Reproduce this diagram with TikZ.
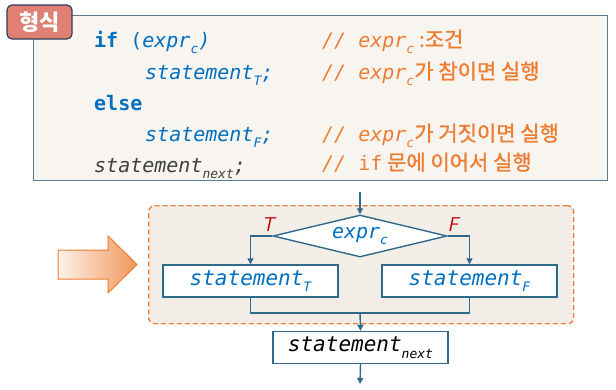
\documentclass[tikz,border=0pt]{standalone}
\usepackage{fontspec}
\setmainfont{DejaVu Sans}
\setmonofont{DejaVu Sans Mono}
\newfontfamily\kr{Noto Sans CJK KR}
\newfontfamily\krm{Noto Sans CJK KR}[FakeBold=1.2]
\usetikzlibrary{shapes.geometric,arrows.meta}
\definecolor{boxfill}{HTML}{F8F5F1}
\definecolor{boxline}{HTML}{5B7C8E}
\definecolor{tagfill}{HTML}{E07F74}
\definecolor{tagline}{HTML}{2F3E5C}
\definecolor{codeblue}{HTML}{0070C0}
\definecolor{cmtorange}{HTML}{ED7D31}
\definecolor{nextgray}{HTML}{404040}
\definecolor{flowline}{HTML}{2E6A8B}
\definecolor{dashline}{HTML}{F07F3C}
\definecolor{dashfill}{HTML}{F2EDE7}
\definecolor{tfred}{HTML}{C00000}
\newcommand\sbs[1]{\raisebox{-0.32em}{\fontsize{13}{13}\selectfont #1}}
\newcommand\krc{\krm\upshape\fontsize{21}{24}\selectfont}
\begin{document}
\begin{tikzpicture}[x=1pt,y=-1pt,
  code/.style={font=\ttfamily\fontsize{20}{24}\selectfont, inner sep=0pt, anchor=base west, text=codeblue},
  cmt/.style={font=\ttfamily\fontsize{20}{24}\selectfont, inner sep=0pt, anchor=base west, text=cmtorange},
  flowbox/.style={draw=flowline, line width=1.4pt, fill=white, minimum width=175pt, minimum height=32pt, inner sep=0pt, font=\ttfamily\itshape\fontsize{21}{24}\selectfont, text=codeblue},
  flow/.style={draw=flowline, line width=1.4pt},
  flowarr/.style={flow, -{Triangle[length=6pt,width=6pt]}},
  tf/.style={text=tfred, font=\sffamily\itshape\fontsize{20}{22}\selectfont, inner sep=0pt}
]
\useasboundingbox (0,0) rectangle (616,389);

% top box
\node[draw=boxline, line width=1.4pt, fill=boxfill, minimum width=574pt, minimum height=165pt, inner sep=0pt, anchor=north west] (frame) at (33,15) {};
\node[draw=tagline, line width=1.2pt, fill=tagfill, rounded corners=5pt, minimum width=65pt, minimum height=34pt, inner sep=0pt, text=white, font=\kr\bfseries\fontsize{22}{24}\selectfont] (tag) at (39.5,22) {형식};

% code
\node[code] (c1) at (94,47) {\bfseries if {\mdseries (\itshape expr\sbs{c})}};
\node[code] (c2) at (145,79) {\itshape statement\sbs{T};};
\node[code] (c3) at (94,110) {\bfseries else};
\node[code] (c4) at (145,141) {\itshape statement\sbs{F};};
\node[code, text=nextgray] (c5) at (94,172) {\itshape statement\sbs{next};};

% comments
\node[cmt] (k1) at (322,47) {\itshape // expr\sbs{c}{\krc\ :조건}};
\node[cmt] (k2) at (322,79) {\itshape // expr\sbs{c}{\krc 가 참이면 실행}};
\node[cmt] (k4) at (322,141) {\itshape // expr\sbs{c}{\krc 가 거짓이면 실행}};
\node[cmt] (k5) at (322,170) {\itshape // \upshape if{\krc\ 문에 이어서 실행}};

% big arrow
\path[draw=cmtorange, line width=1pt, left color=cmtorange!10, right color=cmtorange!80!white]
  (58,250) -- (108,250) -- (108,236) -- (137,264.5) -- (108,293) -- (108,279) -- (58,279) -- cycle;

% dashed region
\node[draw=dashline, fill=dashfill, line width=1.4pt, dash pattern=on 5pt off 3pt, rounded corners=6pt, minimum width=425pt, minimum height=118pt, inner sep=0pt, anchor=north west] (region) at (148,205) {};

% flowchart
\coordinate (in) at (360,192);
\node[diamond, draw=flowline, line width=1.4pt, fill=white, minimum width=174pt, minimum height=42pt, aspect=4.1, inner sep=0pt, font=\ttfamily\itshape\fontsize{20}{24}\selectfont, text=codeblue] (cond) at (360,236) {expr\sbs{c}};
\node[flowbox] (sT) at (250.5,281) {statement\sbs{T}};
\node[flowbox] (sF) at (469.5,281) {statement\sbs{F}};
\node[flowbox, text=black] (sN) at (360.5,347.5) {statement\sbs{next}};
\coordinate (m) at (360,313);
\coordinate (out) at (360,384);

\draw[flowarr] (in) -- (cond.north);
\draw[flowarr] (cond.west) -| (sT.north);
\draw[flowarr] (cond.east) -| (sF.north);
\draw[flow] (sT.south) |- (m) -| (sF.south);
\draw[flowarr] (m) -- (sN.north);
\draw[flowarr] (sN.south) -- (out);

\node[tf] (T) at (268,225) {T};
\node[tf] (F) at (453,225) {F};
\end{tikzpicture}
\end{document}
